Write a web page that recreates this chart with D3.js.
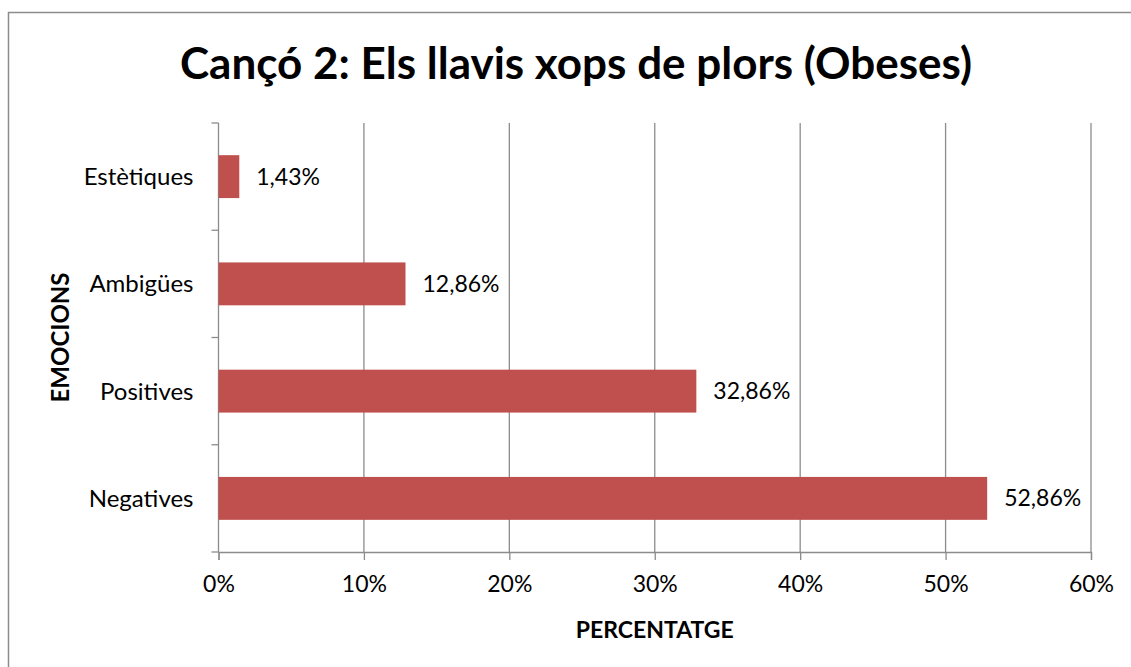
<!DOCTYPE html>
<html>
<head>
<meta charset="utf-8">
<script src="https://cdn.jsdelivr.net/npm/d3@7"></script>
<style>
  body { margin: 0; background: #fff; }
  svg { display: block; font-family: Lato, "Open Sans", sans-serif; }
</style>
</head>
<body>
<svg width="1131" height="667"></svg>
<script>
// chart data
const categories = ["Estètiques", "Ambigües", "Positives", "Negatives"];
const values = [1.43, 12.86, 32.86, 52.86];
const xTicks = [0, 10, 20, 30, 40, 50, 60];
const title = "Cançó 2: Els llavis xops de plors (Obeses)";

let svg = d3.select("svg");
let plotLeft = 218.5, plotRight = 1091, plotTop = 123, plotBottom = 552;
let grey = "#8c8c8c";

// outer frame, cut by the picture on the right and bottom
svg.append("rect")
    .attr("x", 8.5).attr("y", 12.5)
    .attr("width", 1140).attr("height", 700)
    .attr("fill", "none")
    .attr("stroke", grey)
    .attr("stroke-width", 1.5);

let x = d3.scaleLinear().domain([0, 60]).range([plotLeft, plotRight]);
let y = d3.scaleBand().domain(categories).range([plotTop, plotBottom]);

// vertical gridlines
svg.append("g").selectAll("line")
    .data(xTicks.slice(1))
    .enter().append("line")
    .attr("x1", d => x(d)).attr("x2", d => x(d))
    .attr("y1", plotTop).attr("y2", plotBottom)
    .attr("stroke", grey).attr("stroke-width", 1.3);

// x axis
let xAxis = svg.append("g")
    .attr("transform", "translate(0," + plotBottom + ")")
    .call(d3.axisBottom(x).tickValues(xTicks).tickSize(8).tickPadding(16)
        .tickFormat(d => d + "%"));
xAxis.select(".domain").attr("stroke", grey).attr("stroke-width", 1.3);
xAxis.selectAll(".tick line").attr("stroke", grey).attr("stroke-width", 1.3);
xAxis.selectAll("text").attr("font-size", 23).attr("fill", "#000")
    .attr("font-family", "Lato, sans-serif");

// y axis with ticks on the band edges
let yAxis = svg.append("g").attr("transform", "translate(" + plotLeft + ",0)");
yAxis.append("line")
    .attr("y1", plotTop).attr("y2", plotBottom)
    .attr("stroke", grey).attr("stroke-width", 1.3);
let edges = categories.map(c => y(c)).concat([plotBottom]);
yAxis.selectAll(".edge")
    .data(edges)
    .enter().append("line")
    .attr("x1", -7).attr("x2", 0)
    .attr("y1", d => d).attr("y2", d => d)
    .attr("stroke", grey).attr("stroke-width", 1.3);
yAxis.selectAll(".lab")
    .data(categories)
    .enter().append("text")
    .attr("x", -25)
    .attr("y", d => y(d) + y.bandwidth() / 2)
    .attr("dy", "0.35em")
    .attr("text-anchor", "end")
    .attr("font-size", 24)
    .text(d => d);

// bars
let barH = y.bandwidth() * 0.4;
let bars = svg.append("g").selectAll(".bar")
    .data(categories.map((c, i) => ({ c: c, v: values[i] })))
    .enter().append("g");

bars.append("rect")
    .attr("x", plotLeft)
    .attr("y", d => y(d.c) + (y.bandwidth() - barH) / 2)
    .attr("width", d => x(d.v) - plotLeft)
    .attr("height", barH)
    .attr("fill", "#c0504d");

bars.append("text")
    .attr("x", d => x(d.v) + 17)
    .attr("y", d => y(d.c) + y.bandwidth() / 2)
    .attr("dy", "0.35em")
    .attr("font-size", 23)
    .text(d => d.v.toFixed(2).replace(".", ",") + "%");

// titles
svg.append("text")
    .attr("x", 576).attr("y", 79)
    .attr("text-anchor", "middle")
    .attr("font-size", 44)
    .attr("font-weight", "bold")
    .text(title);

svg.append("text")
    .attr("x", (plotLeft + plotRight) / 2).attr("y", 638)
    .attr("text-anchor", "middle")
    .attr("font-size", 23)
    .attr("font-weight", "bold")
    .text("PERCENTATGE");

svg.append("text")
    .attr("transform", "translate(68.5," + (plotTop + plotBottom) / 2 + ") rotate(-90)")
    .attr("text-anchor", "middle")
    .attr("font-size", 24)
    .attr("font-weight", "bold")
    .text("EMOCIONS");
</script>
</body>
</html>
